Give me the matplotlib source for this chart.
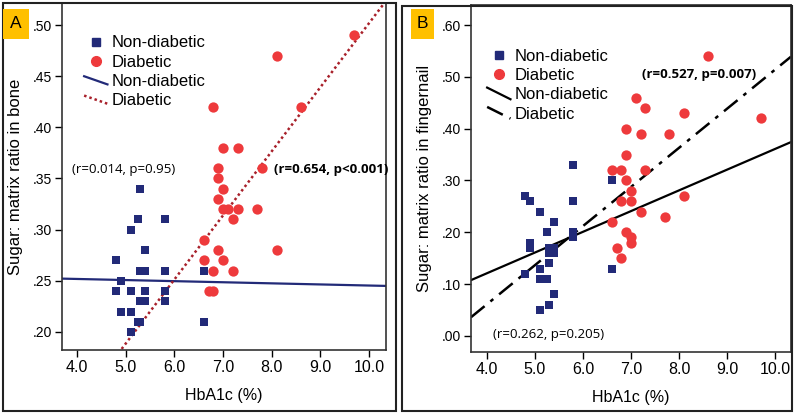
import matplotlib
matplotlib.use("Agg")
import matplotlib.pyplot as plt
from matplotlib.lines import Line2D
from matplotlib.legend_handler import HandlerLine2D
from matplotlib.patches import Rectangle
import numpy as np

plt.rcParams['font.family'] = ['Liberation Sans', 'DejaVu Sans']

# ---- Panel A: bone ----
a_non_x = [4.8, 5.1, 5.25, 5.8, 5.4, 5.3, 5.4, 5.8, 6.6, 4.9, 4.8, 5.1, 5.4, 5.8,
           5.3, 5.4, 5.8, 4.9, 5.1, 5.25, 5.3, 5.1, 6.6, 5.3]
a_non_y = [0.27, 0.30, 0.31, 0.31, 0.28, 0.26, 0.26, 0.26, 0.26, 0.25, 0.24, 0.24, 0.24, 0.24,
           0.23, 0.23, 0.23, 0.22, 0.22, 0.21, 0.21, 0.20, 0.21, 0.34]
a_dia_x = [9.7, 8.1, 8.6, 6.8, 7.0, 7.3, 6.9, 7.8, 6.9, 7.0, 6.9, 7.0, 7.1, 7.3, 7.7,
           7.2, 6.6, 6.9, 8.1, 6.6, 7.0, 6.8, 7.2, 6.72, 6.8]
a_dia_y = [0.49, 0.47, 0.42, 0.42, 0.38, 0.38, 0.36, 0.36, 0.35, 0.34, 0.33, 0.32, 0.32, 0.32, 0.32,
           0.31, 0.29, 0.28, 0.28, 0.27, 0.27, 0.26, 0.26, 0.24, 0.24]
a_fit_non = (0.2561, -0.00107)   # intercept, slope
a_fit_dia = (-0.1243, 0.0626)
a_yticks = [0.20, 0.25, 0.30, 0.35, 0.40, 0.45, 0.50]
a_ylabels = [".20", ".25", ".30", ".35", ".40", ".45", ".50"]

# ---- Panel B: fingernail ----
b_non_x = [4.8, 4.9, 5.1, 5.4, 5.25, 5.8, 5.8, 5.8, 5.8, 4.9, 4.9, 5.3, 5.4, 5.3, 5.4,
           5.3, 4.8, 5.1, 5.25, 5.1, 5.4, 5.3, 5.1, 6.6, 6.6]
b_non_y = [0.27, 0.26, 0.24, 0.22, 0.20, 0.33, 0.26, 0.20, 0.19, 0.18, 0.17, 0.17, 0.17, 0.16, 0.16,
           0.14, 0.12, 0.11, 0.11, 0.13, 0.08, 0.06, 0.05, 0.30, 0.13]
b_dia_x = [8.6, 9.7, 7.1, 7.3, 8.1, 6.9, 7.2, 7.8, 6.9, 6.6, 6.8, 7.3, 6.9, 7.0, 8.1,
           6.8, 7.0, 7.2, 7.7, 6.6, 6.9, 7.0, 7.0, 6.7, 6.8]
b_dia_y = [0.54, 0.42, 0.46, 0.44, 0.43, 0.40, 0.39, 0.39, 0.35, 0.32, 0.32, 0.32, 0.30, 0.28, 0.27,
           0.26, 0.26, 0.24, 0.23, 0.22, 0.20, 0.19, 0.18, 0.17, 0.15]
b_fit_non = (-0.0391, 0.0400)
b_fit_dia = (-0.2410, 0.0755)
b_yticks = [0.0, 0.1, 0.2, 0.3, 0.4, 0.5, 0.6]
b_ylabels = [".00", ".10", ".20", ".30", ".40", ".50", ".60"]

xticks = [4, 5, 6, 7, 8, 9, 10]
xlabels = ["4.0", "5.0", "6.0", "7.0", "8.0", "9.0", "10.0"]

navy = "#222a78"
red = "#ee3a3c"
darkred = "#a8202a"


class DiagHandler(HandlerLine2D):
    # SPSS-style legend: fit lines drawn as a short diagonal
    def __init__(self, drop=0.8, **kw):
        super().__init__(**kw)
        self.drop = drop

    def create_artists(self, legend, orig_handle, xdescent, ydescent, width, height, fontsize, trans):
        mid = ydescent + height / 2
        h = height * self.drop
        ln = Line2D([-xdescent, -xdescent + width], [mid + h / 2, mid - h / 2])
        self.update_prop(ln, orig_handle, legend)
        ln.set_transform(trans)
        return [ln]


fig = plt.figure(figsize=(8, 4.18), dpi=100)

axA = fig.add_axes([62/800, 1-350/418, 324/800, 347/418])
axB = fig.add_axes([471/800, 1-352/418, 320/800, 347/418])


def panel(ax, nx, ny, dx, dy, fit_non, fit_dia, xlim, ylim, yt, yl, ylab,
          lc_non, lc_dia, ls_dia, lw_dia, leg_xy, drop):
    ax.scatter(nx, ny, marker="s", s=40, color=navy, zorder=3, linewidths=0)
    ax.scatter(dx, dy, marker="o", s=55, color=red, zorder=3, linewidths=0)
    xs = np.array(xlim)
    ax.plot(xs, fit_non[0] + fit_non[1]*xs, color=lc_non, lw=1.6, zorder=2)
    ax.plot(xs, fit_dia[0] + fit_dia[1]*xs, color=lc_dia, lw=lw_dia, ls=ls_dia, zorder=2)
    ax.set_xlim(xlim)
    ax.set_ylim(ylim)
    ax.set_xticks(xticks)
    ax.set_xticklabels(xlabels, fontsize=11.5)
    ax.set_yticks(yt)
    ax.set_yticklabels(yl, fontsize=10)
    ax.tick_params(direction="out", length=5, width=1, pad=2)
    ax.set_xlabel("HbA1c (%)", fontsize=11.5)
    ax.xaxis.set_label_coords(0.5, -0.11)
    ax.set_ylabel(ylab, fontsize=12)
    ax.yaxis.set_label_coords(-0.12, 0.5)
    for s in ax.spines.values():
        s.set_linewidth(1.2)
        s.set_color("#333333")
    handles = [
        Line2D([], [], ls="none", marker="s", ms=6, color=navy),
        Line2D([], [], ls="none", marker="o", ms=7, color=red),
        Line2D([], [], color=lc_non, lw=1.6),
        Line2D([], [], color=lc_dia, lw=lw_dia, ls=ls_dia),
    ]
    ax.legend(handles, ["Non-diabetic", "Diabetic", "Non-diabetic", "Diabetic"],
              loc="upper left", bbox_to_anchor=leg_xy, borderaxespad=0, frameon=False, fontsize=12,
              handlelength=1.4, handletextpad=0.25, labelspacing=0.26, borderpad=0.2,
              handler_map={handles[2]: DiagHandler(drop), handles[3]: DiagHandler(drop)})


panel(axA, a_non_x, a_non_y, a_dia_x, a_dia_y, a_fit_non, a_fit_dia,
      (3.69, 10.35), (0.1824, 0.5215), a_yticks, a_ylabels,
      "Sugar: matrix ratio in bone", navy, darkred, (0, (1, 1.2)), 1.8,
      (0.058, 0.916), 0.7)
panel(axB, b_non_x, b_non_y, b_dia_x, b_dia_y, b_fit_non, b_fit_dia,
      (3.67, 10.33), (-0.031, 0.6386), b_yticks, b_ylabels,
      "Sugar: matrix ratio in fingernail", "black", "black", (0, (7, 3, 1.5, 3)), 1.8,
      (0.040, 0.884), 1.0)
axB.yaxis.set_label_coords(-0.122, 0.5)

# correlation notes
note_font = ["Open Sans", "DejaVu Sans"]
axA.text(3.9, 0.3588, "(r=0.014, p=0.95)", fontsize=9.5, family=note_font, va="center")
axA.text(8.05, 0.3588, "(r=0.654, p<0.001)", fontsize=9.5, family=note_font,
         fontweight="bold", va="center")
axB.text(7.23, 0.504, "(r=0.527, p=0.007)", fontsize=9.5, family=note_font,
         fontweight="bold", va="center")
axB.text(4.12, 0.002, "(r=0.262, p=0.205)", fontsize=9.5, family=note_font, va="center")

# panel frames and letter boxes
fig.patches.append(Rectangle((3/800, 1-411/418), 393/800, 408/418, transform=fig.transFigure,
                             fill=False, ec="#222222", lw=1.5))
fig.patches.append(Rectangle((402/800, 1-411/418), 390/800, 405/418, transform=fig.transFigure,
                             fill=False, ec="#222222", lw=1.5))
fig.patches.append(Rectangle((3/800, 1-39/418), 26/800, 30/418, transform=fig.transFigure,
                             fc="#ffc000", ec="none"))
fig.patches.append(Rectangle((411/800, 1-39/418), 23/800, 30/418, transform=fig.transFigure,
                             fc="#ffc000", ec="none"))
fig.text(16/800, 1-24/418, "A", fontsize=12.5, ha="center", va="center")
fig.text(422.5/800, 1-24/418, "B", fontsize=12.5, ha="center", va="center")

fig.savefig("out.png", dpi=100)
